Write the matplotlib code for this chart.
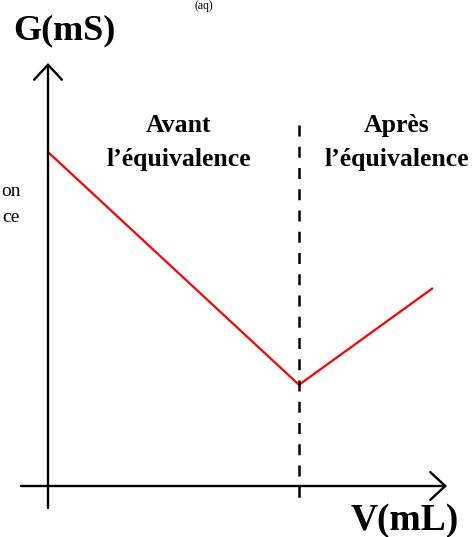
import matplotlib.pyplot as plt

# titration curve: conductance vs added volume
volume = [0, 10, 15.3]          # mL
conductance = [6.6, 2.0, 3.9]   # mS
v_eq = 10                       # equivalence volume, mL

W, H = 476, 537
fig = plt.figure(figsize=(W / 100, H / 100), dpi=100)

# where the origin sits (pixels) and pixels per unit
x0, y0 = 48, 486
sx, sy = 25.1, 50.6
left, right, top, bottom = 21, 447, 63, 508

ax = fig.add_axes([left / W, 1 - bottom / H, (right - left) / W, (bottom - top) / H])
ax.set_xlim((left - x0) / sx, (right - x0) / sx)
ax.set_ylim((y0 - bottom) / sy, (y0 - top) / sy)
ax.axis('off')

xmin, xmax = ax.get_xlim()
ymin, ymax = ax.get_ylim()
arrow = dict(arrowstyle='->,head_length=0.4,head_width=0.37', lw=1.7, color='black',
             shrinkA=0, shrinkB=0, mutation_scale=27)
ax.annotate('', xy=(xmax, 0), xytext=(xmin, 0), arrowprops=arrow, annotation_clip=False)
ax.annotate('', xy=(0, ymax), xytext=(0, ymin), arrowprops=arrow, annotation_clip=False)

ax.plot(volume, conductance, color='red', lw=1.6, clip_on=False)
ax.plot([v_eq, v_eq], [7.13, -0.31], color='black', lw=1.8,
        linestyle=(0, (4.4, 4.1)), clip_on=False)

serif = 'Liberation Serif'


def label(x, y, s, size, weight='bold', ha='center'):
    fig.text(x / W, 1 - y / H, s, fontsize=size, fontweight=weight, ha=ha,
             va='baseline', family=serif)


label(64, 39, 'G(mS)', 26)
label(405, 530, 'V(mL)', 27)
label(179, 132, 'Avant', 18.5)
label(179, 166, 'l\u2019équivalence', 18.5)
label(397, 132, 'Après', 18.5)
label(397, 166, 'l\u2019équivalence', 18.5)
label(204, 9, '(aq)', 8.5, weight='normal')
label(1, 196, 'on', 14, weight='normal', ha='left')
label(2, 222, 'ce', 14, weight='normal', ha='left')

fig.savefig('out.png', dpi=100)
